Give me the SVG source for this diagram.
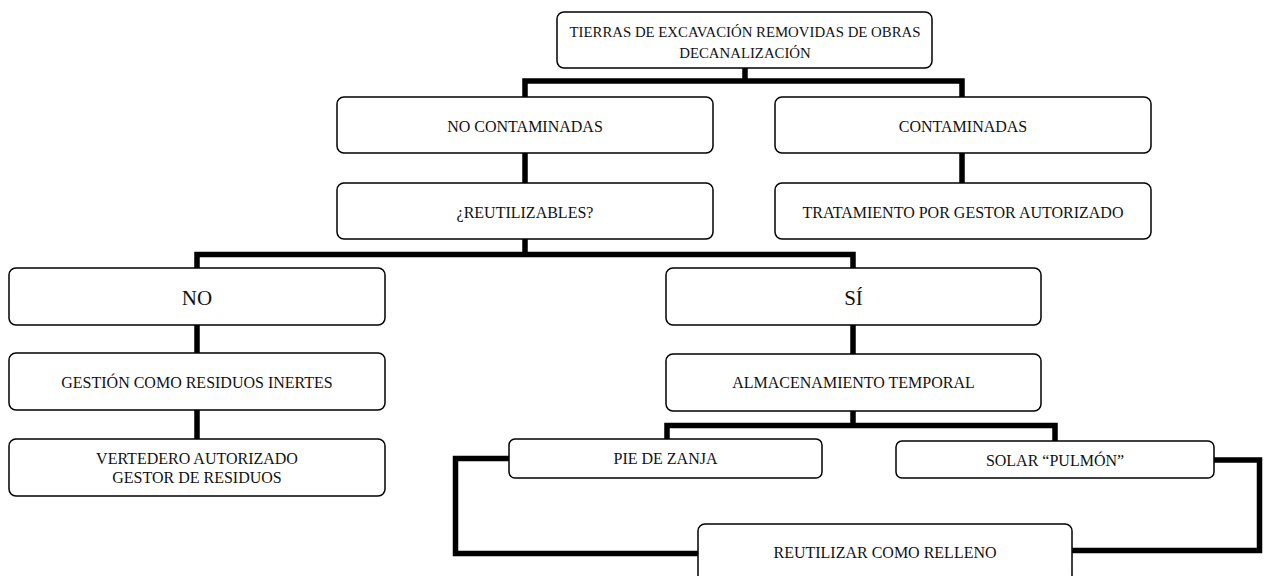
<svg xmlns="http://www.w3.org/2000/svg" width="1268" height="576" viewBox="0 0 1268 576">
<style>
.box{fill:#fff;stroke:#000;stroke-width:1.5}
.t{font-family:"Liberation Serif","Times New Roman",serif;font-size:16px;fill:#111;text-anchor:middle}
.top{font-size:14.8px}
.big{font-size:21px}
.c{fill:none;stroke:#000;stroke-width:5.5;stroke-linejoin:miter;stroke-linecap:square}
</style>
<rect width="1268" height="576" fill="#fff"/>
<g id="connectors">
<path class="c" d="M745,68 V81 M525,81 H962 M525,81 V97 M962,81 V97"/>
<path class="c" d="M525,153 V183 M962,153 V183"/>
<path class="c" d="M525,239 V254.5 M197,254.5 H853 M197,254.5 V268 M853,254.5 V268"/>
<path class="c" d="M197,325 V353 M197,410 V439"/>
<path class="c" d="M853,325 V354 M853,411 V425.5 M667,425.5 H1055 M667,425.5 V439 M1055,425.5 V441"/>
<path class="c" d="M509,458.5 H455.5 V553.5 H698"/>
<path class="c" d="M1214,460 H1259.5 V550.5 H1072"/>
</g>
<g id="n-top"><rect class="box" x="557" y="12" width="375" height="56" rx="7"/><text class="t top" x="745" y="37">TIERRAS DE EXCAVACIÓN REMOVIDAS DE OBRAS</text><text class="t top" x="745" y="58">DECANALIZACIÓN</text></g>
<g id="n-nocont"><rect class="box" x="337" y="97" width="376" height="56" rx="7"/><text class="t" x="525" y="132">NO CONTAMINADAS</text></g>
<g id="n-cont"><rect class="box" x="775" y="97" width="376" height="56" rx="7"/><text class="t" x="963" y="132">CONTAMINADAS</text></g>
<g id="n-reut"><rect class="box" x="337" y="183" width="376" height="56" rx="7"/><text class="t" x="525" y="218">¿REUTILIZABLES?</text></g>
<g id="n-trat"><rect class="box" x="775" y="183" width="376" height="56" rx="7"/><text class="t" x="963" y="218">TRATAMIENTO POR GESTOR AUTORIZADO</text></g>
<g id="n-no"><rect class="box" x="9" y="268" width="376" height="57" rx="7"/><text class="t big" x="197" y="305">NO</text></g>
<g id="n-si"><rect class="box" x="666" y="268" width="375" height="57" rx="7"/><text class="t big" x="853.5" y="305">SÍ</text></g>
<g id="n-gest"><rect class="box" x="9" y="353" width="376" height="57" rx="7"/><text class="t" x="197" y="388">GESTIÓN COMO RESIDUOS INERTES</text></g>
<g id="n-alm"><rect class="box" x="666" y="354" width="375" height="57" rx="7"/><text class="t" x="853.5" y="388">ALMACENAMIENTO TEMPORAL</text></g>
<g id="n-vert"><rect class="box" x="9" y="439" width="376" height="57" rx="7"/><text class="t" x="197" y="464">VERTEDERO AUTORIZADO</text><text class="t" x="197" y="483">GESTOR DE RESIDUOS</text></g>
<g id="n-pie"><rect class="box" x="509" y="439" width="313" height="39" rx="6"/><text class="t" x="665.5" y="464">PIE DE ZANJA</text></g>
<g id="n-solar"><rect class="box" x="896" y="441" width="318" height="37" rx="6"/><text class="t" x="1055" y="466">SOLAR “PULMÓN”</text></g>
<g id="n-rell"><rect class="box" x="698" y="524" width="374" height="58" rx="7"/><text class="t" x="885" y="558">REUTILIZAR COMO RELLENO</text></g>
</svg>
